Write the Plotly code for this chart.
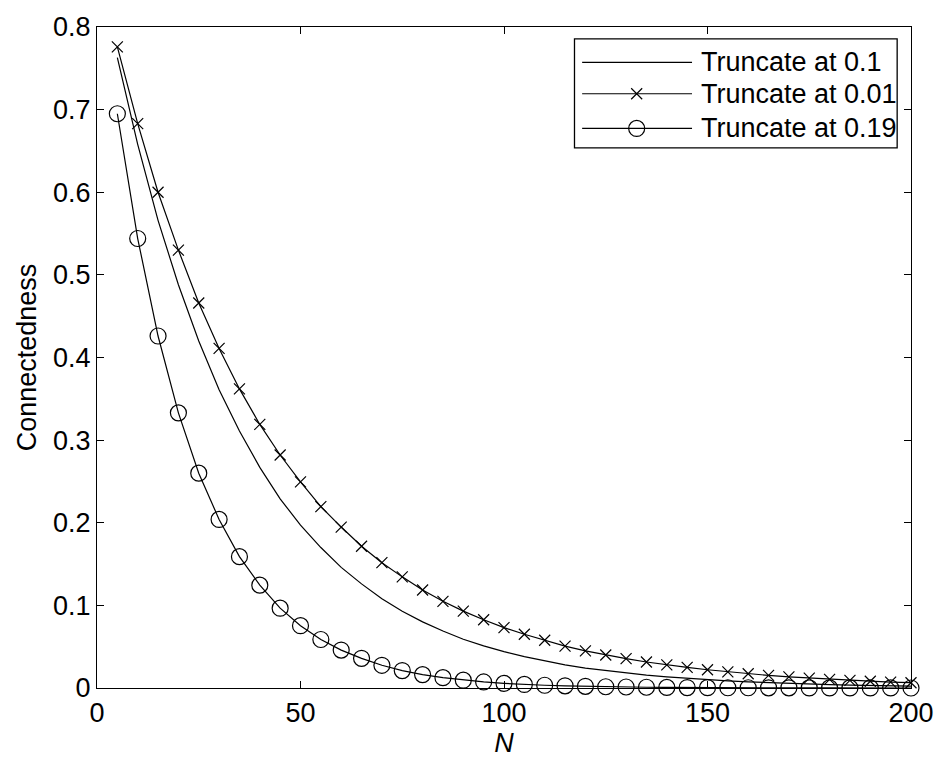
import plotly.graph_objects as go

# Network size N
n_values = [5, 10, 15, 20, 25, 30, 35, 40, 45, 50, 55, 60, 65, 70, 75, 80, 85, 90, 95, 100,
            105, 110, 115, 120, 125, 130, 135, 140, 145, 150, 155, 160, 165, 170, 175, 180,
            185, 190, 195, 200]

# Connectedness for each truncation threshold
trunc_0_1 = [0.763, 0.658, 0.566, 0.488, 0.420, 0.361, 0.311, 0.267, 0.229, 0.197,
             0.170, 0.146, 0.126, 0.108, 0.093, 0.080, 0.069, 0.059, 0.051, 0.044,
             0.038, 0.033, 0.028, 0.024, 0.021, 0.018, 0.0155, 0.0134, 0.0115, 0.0099,
             0.0086, 0.0074, 0.0064, 0.0055, 0.0047, 0.0041, 0.0035, 0.0030, 0.0026, 0.0023]

trunc_0_01 = [0.776, 0.683, 0.600, 0.530, 0.466, 0.411, 0.362, 0.319, 0.282, 0.2495,
              0.2195, 0.1948, 0.1716, 0.1517, 0.1345, 0.1186, 0.1049, 0.093, 0.0826, 0.0731,
              0.065, 0.0578, 0.0507, 0.045, 0.0399, 0.0355, 0.0315, 0.028, 0.0249, 0.0221,
              0.0196, 0.0172, 0.0152, 0.0135, 0.012, 0.0105, 0.0093, 0.0082, 0.0072, 0.0064]

trunc_0_19 = [0.695, 0.544, 0.426, 0.333, 0.260, 0.204, 0.159, 0.1245, 0.0966, 0.0754,
              0.0587, 0.0459, 0.0359, 0.0275, 0.0211, 0.0162, 0.0125, 0.0095, 0.0073, 0.0056,
              0.0043, 0.0033, 0.0026, 0.0020, 0.0015, 0.0012, 0.0009, 0.0007, 0.0005, 0.0004,
              0.0003, 0.0003, 0.0002, 0.0002, 0.0001, 0.0001, 0.0001, 0.0001, 0.0001, 0.0000]

legend_labels = ["Truncate at 0.1", "Truncate at 0.01", "Truncate at 0.19"]
x_ticks = [0, 50, 100, 150, 200]
y_ticks = [0, 0.1, 0.2, 0.3, 0.4, 0.5, 0.6, 0.7, 0.8]

FONT = "Liberation Sans, Arial, Helvetica, sans-serif"
FS = 27
BLACK = "#000000"

x_marker = dict(symbol="x-thin-open", size=11, color=BLACK, line=dict(width=1.2, color=BLACK))
o_marker = dict(symbol="circle-open", size=16, color=BLACK, line=dict(width=1.2, color=BLACK))
series = [(trunc_0_1, None), (trunc_0_01, x_marker), (trunc_0_19, o_marker)]

fig = go.Figure()
for ys, marker in series:
    fig.add_trace(go.Scatter(
        x=n_values, y=ys,
        mode="lines" if marker is None else "lines+markers",
        line=dict(color=BLACK, width=1.2),
        marker=marker,
        showlegend=False, hoverinfo="skip", cliponaxis=False,
        xaxis="x", yaxis="y",
    ))

# Boxed legend drawn on a hidden overlay axis spanning the plot area (0..1)
row_y = [0.9465, 0.899, 0.8466]
line_x0, line_x1, mark_x, text_x = 0.596, 0.731, 0.663, 0.739
for i, (label, (ys, marker)) in enumerate(zip(legend_labels, series)):
    fig.add_trace(go.Scatter(
        x=[line_x0, line_x1], y=[row_y[i], row_y[i]], mode="lines",
        line=dict(color=BLACK, width=1.2), showlegend=False, hoverinfo="skip",
        xaxis="x2", yaxis="y2",
    ))
    if marker is not None:
        fig.add_trace(go.Scatter(
            x=[mark_x], y=[row_y[i]], mode="markers", marker=marker,
            showlegend=False, hoverinfo="skip", xaxis="x2", yaxis="y2",
        ))
    fig.add_annotation(
        x=text_x, y=row_y[i], xref="x2", yref="y2", text=label, showarrow=False,
        xanchor="left", yanchor="middle", font=dict(family=FONT, size=FS, color=BLACK),
    )

fig.add_shape(type="rect", xref="x2", yref="y2", x0=0.5866, x1=0.983, y0=0.817, y1=0.982,
              line=dict(color=BLACK, width=1.3), fillcolor="rgba(255,255,255,0)", layer="above")

axis_common = dict(
    showgrid=False, zeroline=False, showline=True, linecolor=BLACK, linewidth=1.3,
    mirror="ticks", ticks="inside", ticklen=7, tickwidth=1, tickcolor=BLACK,
    tickfont=dict(family=FONT, size=FS, color=BLACK),
)

fig.update_layout(
    width=946, height=760,
    margin=dict(l=97, r=29, t=21, b=72),
    paper_bgcolor="white", plot_bgcolor="white",
    xaxis=dict(range=[0, 200], tickvals=x_ticks, ticktext=[str(v) for v in x_ticks],
               title=dict(text="<i>N</i>", font=dict(family=FONT, size=FS, color=BLACK), standoff=2),
               **axis_common),
    yaxis=dict(range=[0, 0.8], tickvals=y_ticks, ticktext=[f"{v:g}" for v in y_ticks],
               title=dict(text="Connectedness", font=dict(family=FONT, size=FS, color=BLACK), standoff=8),
               **axis_common),
    xaxis2=dict(range=[0, 1], overlaying="x", visible=False, fixedrange=True),
    yaxis2=dict(range=[0, 1], overlaying="y", visible=False, fixedrange=True),
    showlegend=False,
)

fig.write_html("out.html")
